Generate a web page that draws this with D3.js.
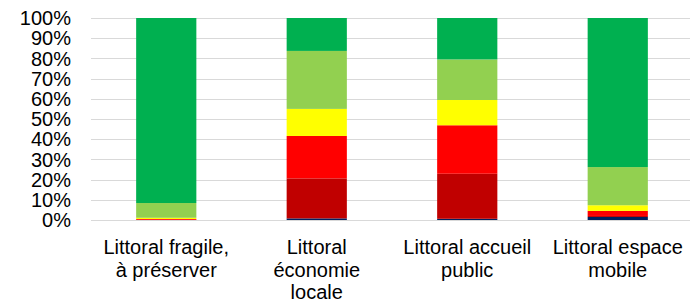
<!DOCTYPE html>
<html>
<head>
<meta charset="utf-8">
<script src="https://cdn.jsdelivr.net/npm/d3@7"></script>
<style>
  body { margin: 0; background: #fff; }
  svg { display: block; }
  text { font-family: "Liberation Sans", Arial, sans-serif; fill: #000; }
</style>
</head>
<body>
<svg id="chart"></svg>
<script>
// Categories (line breaks as in the original)
var categories = [
  "Littoral fragile,\nà préserver",
  "Littoral\néconomie\nlocale",
  "Littoral accueil\npublic",
  "Littoral espace\nmobile"
];

// Series, bottom to top (percent of each bar)
var seriesNames = ["s1", "s2", "s3", "s4", "s5", "s6"];
var seriesColors = ["#002060", "#C00000", "#FF0000", "#FFFF00", "#92D050", "#00B050"];
var s1 = [0.0, 0.8, 0.6, 1.5];
var s2 = [0.1, 19.8, 22.3, 0.5];
var s3 = [0.4, 21.0, 24.0, 2.5];
var s4 = [0.6, 13.4, 12.5, 2.8];
var s5 = [7.3, 28.7, 20.1, 18.9];
var s6 = [91.6, 16.3, 20.5, 73.8];

var yTicks = [0, 10, 20, 30, 40, 50, 60, 70, 80, 90, 100];

var width = 690, height = 303;
var margin = {top: 18, right: -3, bottom: 83, left: 91};

var svg = d3.select("#chart")
  .attr("width", width)
  .attr("height", height);

// Build rows for the stack
var allSeries = [s1, s2, s3, s4, s5, s6];
var rows = categories.map(function(c, i) {
  var r = {cat: c};
  seriesNames.forEach(function(s, j) { r[s] = allSeries[j][i]; });
  return r;
});

var xScale = d3.scaleBand()
  .domain(categories)
  .range([margin.left, width - margin.right])
  .paddingInner(0.6)
  .paddingOuter(0.3);

var yScale = d3.scaleLinear()
  .domain([0, 100])
  .range([height - margin.bottom, margin.top]);

// Gridlines
svg.append("g")
  .selectAll("line")
  .data(yTicks)
  .enter().append("line")
  .attr("x1", margin.left)
  .attr("x2", width)
  .attr("y1", d => Math.round(yScale(d)) + 0.5)
  .attr("y2", d => Math.round(yScale(d)) + 0.5)
  .attr("stroke", "#d9d9d9")
  .attr("stroke-width", 1.2);

// Y axis labels
svg.append("g")
  .selectAll("text")
  .data(yTicks)
  .enter().append("text")
  .attr("x", 71)
  .attr("y", d => yScale(d))
  .attr("dy", "0.36em")
  .attr("text-anchor", "end")
  .style("font-size", "20px")
  .text(d => d + "%");

// Stacked bars
var stacked = d3.stack().keys(seriesNames)(rows);

svg.append("g")
  .selectAll("g")
  .data(stacked)
  .enter().append("g")
  .attr("fill", (d, i) => seriesColors[i])
  .selectAll("rect")
  .data(d => d)
  .enter().append("rect")
  .attr("x", d => xScale(d.data.cat))
  .attr("width", xScale.bandwidth())
  .attr("y", d => yScale(d[1]))
  .attr("height", d => Math.max(0, yScale(d[0]) - yScale(d[1])));

// X axis labels
var xLabels = svg.append("g")
  .selectAll("text")
  .data(categories)
  .enter().append("text")
  .attr("x", d => xScale(d) + xScale.bandwidth() / 2)
  .attr("y", 254)
  .attr("text-anchor", "middle")
  .style("font-size", "20px");

xLabels.selectAll("tspan")
  .data(d => d.split("\n").map(t => ({t: t, x: xScale(d) + xScale.bandwidth() / 2})))
  .enter().append("tspan")
  .attr("x", d => d.x)
  .attr("dy", (d, i) => i === 0 ? 0 : 22.5)
  .text(d => d.t);
</script>
</body>
</html>
